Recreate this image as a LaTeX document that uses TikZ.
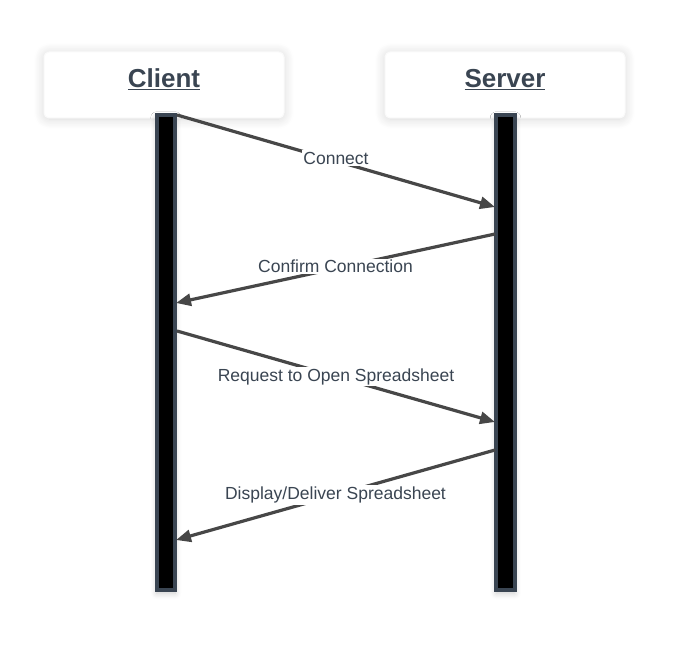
\documentclass[tikz,border=0pt]{standalone}
\usepackage{fontspec}
\setmainfont{Liberation Sans}
\usetikzlibrary{arrows.meta,shadows.blur}
\definecolor{ink}{HTML}{3A4552}
\definecolor{arr}{HTML}{474747}
\begin{document}
\begin{tikzpicture}[x=1pt,y=-1pt,
  header/.style={draw=black!2,line width=1pt,fill=white,rounded corners=5pt,minimum width=240pt,minimum height=66pt,
    blur shadow={shadow xshift=0pt,shadow yshift=-1pt,shadow blur steps=14,shadow blur radius=10pt,shadow opacity=16},
    font=\fontsize{26}{30}\selectfont\bfseries,text=ink},
  bar/.style={draw=ink,line width=3.8pt,fill=black,minimum width=18.5pt,minimum height=475.5pt,inner sep=0pt,
    blur shadow={shadow xshift=0pt,shadow yshift=-3pt,shadow blur steps=8,shadow blur radius=6pt,shadow opacity=20}},
  msg/.style={draw=arr,line width=3.2pt,-{Triangle[length=15pt,width=12pt]}},
  lbl/.style={fill=white,inner sep=1.5pt,text=ink,font=\fontsize{17.5}{20}\selectfont}]
\useasboundingbox (0,0) rectangle (679,663);
\node[header] (client) at (164,85) {\raisebox{13pt}{\underline{Client}}};
\node[header] (server) at (505,85) {\raisebox{13pt}{\underline{Server}}};
\node[bar] (cb) at (166,352.5) {};
\node[bar] (sb) at (505.5,352.5) {};
\coordinate (c1) at (177,115);  \coordinate (s1) at (495,207);
\coordinate (s2) at (495,234);  \coordinate (c2) at (176,303);
\coordinate (c3) at (177,331);  \coordinate (s3) at (495,422);
\coordinate (s4) at (495,450);  \coordinate (c4) at (176,540);
\draw[msg] (c1) -- (s1) node[lbl,pos=0.5,yshift=3pt] (l1) {Connect};
\draw[msg] (s2) -- (c2) node[lbl,pos=0.5,yshift=2pt] (l2) {Confirm Connection};
\draw[msg] (c3) -- (s3) node[lbl,pos=0.5] (l3) {Request to Open Spreadsheet};
\draw[msg] (s4) -- (c4) node[lbl,pos=0.5] (l4) {Display/Deliver Spreadsheet};
\end{tikzpicture}
\end{document}
